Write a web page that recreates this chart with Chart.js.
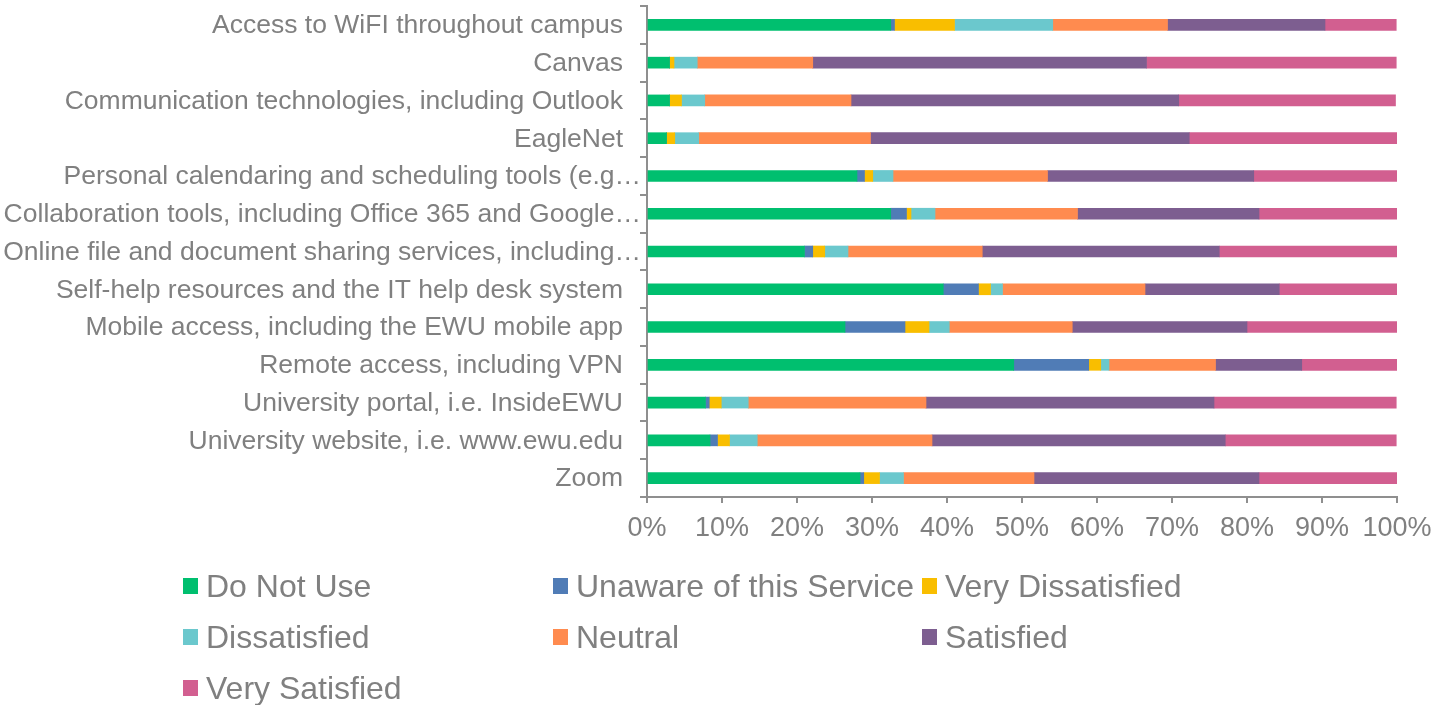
<!DOCTYPE html>
<html>
<head>
<meta charset="utf-8">
<script src="https://cdn.jsdelivr.net/npm/chart.js@4/dist/chart.umd.min.js"></script>
<style>
  html, body { margin: 0; padding: 0; background: #fff; }
  #wrap { position: relative; width: 1441px; height: 705px; }
  #legend { position: absolute; left: 0; top: 0; width: 1441px; height: 705px; pointer-events: none;
            font-family: "Liberation Sans", Arial, sans-serif; font-size: 32px; color: #808080; }
  .item { position: absolute; display: flex; align-items: center; white-space: nowrap; }
  .box { width: 15px; height: 16px; margin-right: 8px; }
</style>
</head>
<body>
<div id="wrap">
  <canvas id="chart" width="1441" height="705"></canvas>
  <div id="legend"></div>
</div>
<script>
// Satisfaction with IT services — stacked 100% horizontal bars
const CATEGORIES = [
    'Access to WiFI throughout campus',
    'Canvas',
    'Communication technologies, including Outlook',
    'EagleNet',
    'Personal calendaring and scheduling tools (e.g…',
    'Collaboration tools, including Office 365 and Google…',
    'Online file and document sharing services, including…',
    'Self-help resources and the IT help desk system',
    'Mobile access, including the EWU mobile app',
    'Remote access, including VPN',
    'University portal, i.e. InsideEWU',
    'University website, i.e. www.ewu.edu',
    'Zoom',
];

const SERIES_NAMES = ['Do Not Use', 'Unaware of this Service', 'Very Dissatisfied', 'Dissatisfied', 'Neutral', 'Satisfied', 'Very Satisfied'];
const SERIES_COLORS = ['#00BF6F', '#507CB6', '#F9BE00', '#6BC8CD', '#FF8B4F', '#7D5E90', '#D25F90'];

// percent of respondents, one entry per category (same order as CATEGORIES)
const doNotUse          = [32.5,  3.0,  3.0,  2.6, 28.0, 32.5, 21.0, 39.5, 26.4, 48.9,  7.8,  8.4, 28.4];
const unaware           = [ 0.5,  0.0,  0.0,  0.0,  1.0,  2.1,  1.1,  4.7,  8.0, 10.0,  0.5,  1.0,  0.5];
const veryDissatisfied  = [ 8.0,  0.6,  1.6,  1.1,  1.1,  0.6,  1.6,  1.6,  3.2,  1.6,  1.6,  1.6,  2.1];
const dissatisfied      = [13.1,  3.1,  3.1,  3.2,  2.7,  3.2,  3.1,  1.6,  2.7,  1.1,  3.6,  3.7,  3.2];
const neutral           = [15.3, 15.4, 19.5, 22.9, 20.6, 19.0, 17.9, 19.0, 16.4, 14.2, 23.7, 23.3, 17.4];
const satisfied         = [21.0, 44.5, 43.7, 42.5, 27.5, 24.2, 31.6, 17.9, 23.3, 11.5, 38.4, 39.1, 30.0];
const verySatisfied     = [ 9.5, 33.3, 28.9, 27.7, 19.1, 18.4, 23.7, 15.8, 20.1, 12.7, 24.3, 22.8, 18.4];

const X_TICKS = [0, 10, 20, 30, 40, 50, 60, 70, 80, 90, 100];

const SERIES_VALUES = [doNotUse, unaware, veryDissatisfied, dissatisfied, neutral, satisfied, verySatisfied];

const TEXT = '#808080';
const AXIS = '#8f8f8f';
const FONT = '"Liberation Sans", Arial, sans-serif';

const datasets = SERIES_NAMES.map((name, i) => ({
    label: name,
    data: SERIES_VALUES[i],
    backgroundColor: SERIES_COLORS[i],
    borderWidth: 0,
    barThickness: 11,
}));

// category labels: Excel lets the truncated ones run a little past the others
const categoryLabels = {
    id: 'categoryLabels',
    afterDraw(chart) {
        const { ctx } = chart;
        const y = chart.scales.y;
        ctx.save();
        ctx.font = `26.5px ${FONT}`;
        ctx.fillStyle = TEXT;
        ctx.textAlign = 'right';
        ctx.textBaseline = 'middle';
        chart.data.labels.forEach((label, i) => {
            const x = label.endsWith('…') ? y.right - 6 : y.right - 24;
            ctx.fillText(label, x, y.getPixelForTick(i) + 1);
        });
        ctx.restore();
    },
};

new Chart(document.getElementById('chart'), {
    type: 'bar',
    data: { labels: CATEGORIES, datasets },
    options: {
        indexAxis: 'y',
        responsive: false,
        animation: false,
        layout: { padding: { top: 6, right: 44, left: 0, bottom: 0 } },
        plugins: { legend: { display: false }, tooltip: { enabled: false } },
        scales: {
            y: {
                stacked: true,
                afterFit: s => { s.width = 647; },
                grid: { drawOnChartArea: false, drawTicks: true, tickLength: 7, color: AXIS, lineWidth: 2, offset: true },
                border: { display: true, color: AXIS, width: 2 },
                ticks: { display: false, autoSkip: false },
            },
            x: {
                stacked: true,
                min: 0, max: 100,
                afterFit: s => { s.height = 705 - 497; },
                afterBuildTicks: s => { s.ticks = X_TICKS.map(v => ({ value: v })); },
                grid: { drawOnChartArea: false, drawTicks: true, tickLength: 6, color: AXIS, lineWidth: 2 },
                border: { display: true, color: AXIS, width: 2 },
                ticks: { color: TEXT, padding: 9, maxRotation: 0, font: { family: FONT, size: 27 }, callback: v => v + '%' },
            },
        },
    },
    plugins: [categoryLabels],
});

// legend laid out in three columns like the original
const LEGEND_COLS = [183, 553, 922];
const LEGEND_ROWS = [586, 637, 688];
const legend = document.getElementById('legend');
SERIES_NAMES.forEach((name, i) => {
    const el = document.createElement('div');
    el.className = 'item';
    el.style.left = LEGEND_COLS[i % 3] + 'px';
    el.style.top = (LEGEND_ROWS[Math.floor(i / 3)] - 19) + 'px';
    el.style.height = '38px';
    el.innerHTML = `<span class="box" style="background:${SERIES_COLORS[i]}"></span><span>${name}</span>`;
    legend.appendChild(el);
});
</script>
</body>
</html>
